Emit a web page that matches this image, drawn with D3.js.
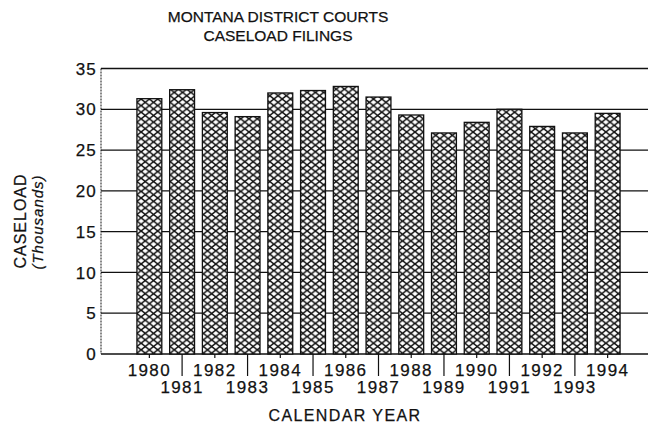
<!DOCTYPE html>
<html>
<head>
<meta charset="utf-8">
<script src="https://cdn.jsdelivr.net/npm/d3@7"></script>
<style>
  body { margin: 0; background: #fff; }
  text { font-family: "Liberation Sans", Arial, sans-serif; fill: #111; stroke: #111; stroke-width: 0.25px; }
</style>
</head>
<body>
<div id="chart"></div>
<script>
// Dữ liệu
const years = [1980, 1981, 1982, 1983, 1984, 1985, 1986, 1987, 1988, 1989, 1990, 1991, 1992, 1993, 1994];
const caseload = [31.3, 32.4, 29.6, 29.1, 32.0, 32.3, 32.8, 31.5, 29.3, 27.1, 28.4, 30.0, 27.9, 27.1, 29.5];
const yTicks = [0, 5, 10, 15, 20, 25, 30, 35];

const width = 648, height = 426;
const margin = { top: 68.5, right: 0, bottom: 72, left: 101 };

const svg = d3.select("#chart").append("svg")
    .attr("width", width)
    .attr("height", height);

// Hoa văn gạch chéo
const defs = svg.append("defs");
const pw = 8.3, ph = 6.6;
const pat = defs.append("pattern")
    .attr("id", "hatch")
    .attr("patternUnits", "userSpaceOnUse")
    .attr("width", pw)
    .attr("height", ph);
pat.append("rect").attr("width", pw).attr("height", ph).attr("fill", "#fff");
pat.append("path")
    .attr("d", `M0,0L${pw},${ph}M${pw},0L0,${ph}`)
    .attr("stroke", "#111")
    .attr("stroke-width", 1.5)
    .attr("fill", "none");

const x = d3.scaleBand()
    .domain(years)
    .range([133, 624])
    .paddingInner(0.24)
    .paddingOuter(0.12);

const y = d3.scaleLinear()
    .domain([0, 35])
    .range([height - margin.bottom, margin.top]);

// Đường lưới ngang
svg.append("g")
    .selectAll("line")
    .data(yTicks)
    .join("line")
    .attr("x1", margin.left)
    .attr("x2", width)
    .attr("y1", d => y(d))
    .attr("y2", d => y(d))
    .attr("stroke", "#111")
    .attr("stroke-width", d => d === 0 ? 1.6 : 1.3);

// Trục Y
svg.append("line")
    .attr("x1", margin.left).attr("x2", margin.left)
    .attr("y1", y(35)).attr("y2", y(0))
    .attr("stroke", "#111")
    .attr("stroke-width", 1)
    .attr("stroke-dasharray", "2,1");

svg.append("g")
    .selectAll("text")
    .data(yTicks)
    .join("text")
    .attr("x", margin.left - 4)
    .attr("y", d => y(d))
    .attr("dy", "0.36em")
    .attr("text-anchor", "end")
    .attr("font-size", "17px")
    .attr("letter-spacing", "1.2px")
    .text(d => d);

// Cột
svg.append("g")
    .selectAll("rect")
    .data(years.map((yr, i) => ({ yr, v: caseload[i] })))
    .join("rect")
    .attr("x", d => x(d.yr))
    .attr("y", d => y(d.v))
    .attr("width", x.bandwidth())
    .attr("height", d => y(0) - y(d.v))
    .attr("fill", "url(#hatch)")
    .attr("stroke", "#111")
    .attr("stroke-width", 1.3);

// Trục X: vạch và nhãn
const xc = d => x(d) + x.bandwidth() / 2;
svg.append("g")
    .selectAll("line")
    .data(years)
    .join("line")
    .attr("x1", d => xc(d))
    .attr("x2", d => xc(d))
    .attr("y1", y(0))
    .attr("y2", d => d % 2 ? y(0) + 22 : y(0) + 4)
    .attr("stroke", "#111")
    .attr("stroke-width", 1.2);

svg.append("g")
    .selectAll("text")
    .data(years)
    .join("text")
    .attr("x", d => xc(d))
    .attr("y", d => d % 2 ? 392.5 : 376)
    .attr("text-anchor", "middle")
    .attr("font-size", "17px")
    .attr("letter-spacing", "1.4px")
    .text(d => d);

// Nhãn trục
svg.append("text")
    .attr("x", 345)
    .attr("y", 420.5)
    .attr("text-anchor", "middle")
    .attr("font-size", "16px")
    .attr("letter-spacing", "1.4px")
    .text("CALENDAR YEAR");

svg.append("text")
    .attr("transform", "translate(26,221) rotate(-90)")
    .attr("text-anchor", "middle")
    .attr("font-size", "16px")
    .attr("letter-spacing", "1px")
    .text("CASELOAD");

svg.append("text")
    .attr("transform", "translate(43,222) rotate(-90)")
    .attr("text-anchor", "middle")
    .attr("font-size", "15px")
    .attr("font-style", "italic")
    .attr("letter-spacing", "1px")
    .text("(Thousands)");

// Tiêu đề
svg.append("text")
    .attr("x", 278)
    .attr("y", 21.7)
    .attr("text-anchor", "middle")
    .attr("font-size", "15.5px")
    .text("MONTANA DISTRICT COURTS");

svg.append("text")
    .attr("x", 278)
    .attr("y", 40.7)
    .attr("text-anchor", "middle")
    .attr("font-size", "15.5px")
    .text("CASELOAD FILINGS");
</script>
</body>
</html>
